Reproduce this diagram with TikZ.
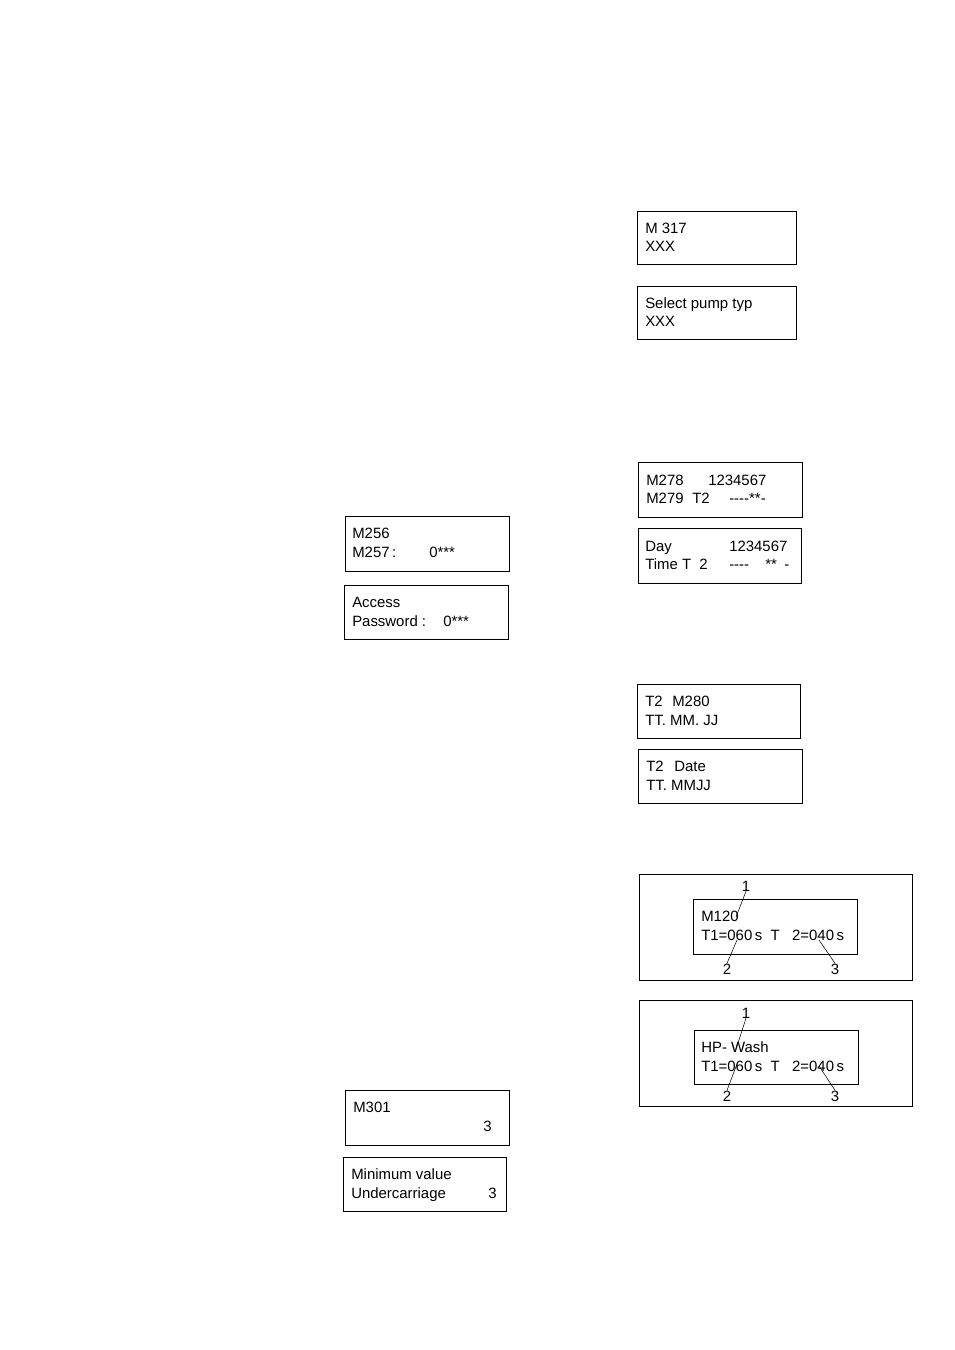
\documentclass[tikz,border=0pt]{standalone}
\usepackage{fontspec}
\setmainfont{Liberation Sans}
\begin{document}
\begin{tikzpicture}[x=0.75pt,y=-0.75pt,
  lcd/.style={draw=black,line width=0.65pt},
  frame/.style={draw=black,line width=0.65pt},
  txt/.style={anchor=base west,inner sep=0pt,font=\fontsize{11.2pt}{13pt}\selectfont},
  num/.style={anchor=base,inner sep=0pt,font=\fontsize{11.2pt}{13pt}\selectfont},
  lead/.style={draw=black,line width=0.4pt}]
\useasboundingbox (0,0) rectangle (954,1350);
% --- M317 / Select pump typ
\draw[lcd] (637,211) rectangle (796,264);
\node[txt] (a1) at (645,233.5) {M 317};
\node[txt] (a2) at (645,251.5) {XXX};
\draw[lcd] (637,286) rectangle (796,339);
\node[txt] (b1) at (645,308.5) {Select pump typ};
\node[txt] (b2) at (645,326.5) {XXX};
% --- M278 / Day
\draw[lcd] (638,462) rectangle (802,517);
\node[txt] (c1) at (646,485) {M278};
\node[txt] (c2) at (708,485) {1234567};
\node[txt] (c3) at (646,503.5) {M279};
\node[txt] (c4) at (692,503.5) {T2};
\node[txt] (c5) at (729,503.5) {-{}-{}-{}-**-};
\draw[lcd] (638,528) rectangle (801,583);
\node[txt] (d1) at (645,551) {Day};
\node[txt] (d2) at (729,551) {1234567};
\node[txt] (d3) at (645,569.5) {Time T\ \ 2};
\node[txt] (d4) at (729,569.5) {-{}-{}-{}-};
\node[txt] (d5) at (765,569.5) {**};
\node[txt] (d6) at (784,569.5) {-};
% --- T2 M280 / T2 Date
\draw[lcd] (637,684) rectangle (800,738);
\node[txt] (e1) at (645,706.5) {T2};
\node[txt] (e2) at (672,706.5) {M280};
\node[txt] (e3) at (645,725) {TT. MM. JJ};
\draw[lcd] (638,749) rectangle (802,803);
\node[txt] (f1) at (646,771.5) {T2};
\node[txt] (f2) at (674,771.5) {Date};
\node[txt] (f3) at (646,790) {TT. MMJJ};
% --- M120 framed
\draw[frame] (639,874) rectangle (912,980);
\draw[lcd] (693,899) rectangle (857,954);
\node[txt] (g1) at (701,921.5) {M120};
\node[txt] (g2) at (701,940.5) {T1=060\,s\ \ T\ \ \ 2=040\,s};
\node[num] (g3) at (746,891) {1};
\node[num] (g4) at (727,974) {2};
\node[num] (g5) at (835,974) {3};
\coordinate (g3e) at (736,917);
\coordinate (g4e) at (737,940);
\coordinate (g5e) at (819,940);
\draw[lead] (g3.south) -- (g3e);
\draw[lead] (g4.north) -- (g4e);
\draw[lead] (g5.north) -- (g5e);
% --- HP-Wash framed
\draw[frame] (639,1000) rectangle (912,1106);
\draw[lcd] (694,1030) rectangle (858,1084);
\node[txt] (h1) at (701,1052.5) {HP- Wash};
\node[txt] (h2) at (701,1071.5) {T1=060\,s\ \ T\ \ \ 2=040\,s};
\node[num] (h3) at (746,1018) {1};
\node[num] (h4) at (727,1101) {2};
\node[num] (h5) at (835,1101) {3};
\coordinate (h3e) at (736,1049);
\coordinate (h4e) at (737,1064);
\coordinate (h5e) at (819,1066);
\draw[lead] (h3.south) -- (h3e);
\draw[lead] (h4.north) -- (h4e);
\draw[lead] (h5.north) -- (h5e);
% --- M256 / Access
\draw[lcd] (345,516) rectangle (509,571);
\node[txt] (i1) at (352,538.5) {M256};
\node[txt] (i2) at (352,557) {M257\,:};
\node[txt] (i3) at (429,557) {0***};
\draw[lcd] (344,585) rectangle (508,639);
\node[txt] (j1) at (352,607.5) {Access};
\node[txt] (j2) at (352,626) {Password\ :};
\node[txt] (j3) at (443,626) {0***};
% --- M301 / Minimum value
\draw[lcd] (345,1090) rectangle (509,1145);
\node[txt] (k1) at (353,1112.5) {M301};
\node[txt] (k2) at (483,1131.5) {3};
\draw[lcd] (343,1157) rectangle (506,1211);
\node[txt] (l1) at (351,1179.5) {Minimum value};
\node[txt] (l2) at (351,1198) {Undercarriage};
\node[txt] (l3) at (488,1198) {3};
\end{tikzpicture}
\end{document}
